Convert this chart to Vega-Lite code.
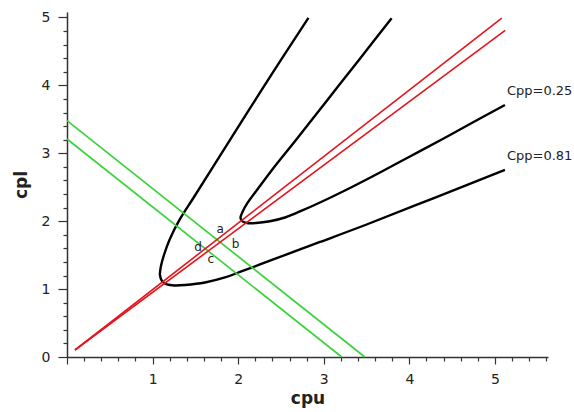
{
  "$schema": "https://vega.github.io/schema/vega-lite/v6.json",
  "width": 481,
  "height": 345,
  "autosize": {"type": "none"},
  "padding": {"left": 67, "top": 12, "right": 26, "bottom": 55},
  "background": "white",
  "config": {
    "view": {"stroke": null},
    "axis": {
      "grid": false,
      "domainColor": "#333333",
      "domainWidth": 1.5,
      "tickColor": "#333333",
      "tickWidth": 1.2,
      "labelColor": "#222222",
      "labelFont": "DejaVu Sans",
      "labelFontSize": 14,
      "labelOverlap": false,
      "labelFlush": false,
      "titleFont": "DejaVu Sans",
      "titleFontSize": 17,
      "titleFontWeight": "bold",
      "titleColor": "#222222"
    }
  },
  "datasets": {
    "lines": [
      {"kind": "curve", "s": "c1", "i": 1, "cpu": 2.821, "cpl": 4.993},
      {"kind": "curve", "s": "c1", "i": 2, "cpu": 2.5, "cpl": 4.375},
      {"kind": "curve", "s": "c1", "i": 3, "cpu": 2.126, "cpl": 3.638},
      {"kind": "curve", "s": "c1", "i": 4, "cpu": 1.787, "cpl": 2.96},
      {"kind": "curve", "s": "c1", "i": 5, "cpu": 1.484, "cpl": 2.356},
      {"kind": "curve", "s": "c1", "i": 6, "cpu": 1.314, "cpl": 2.018},
      {"kind": "curve", "s": "c1", "i": 7, "cpu": 1.197, "cpl": 1.723},
      {"kind": "curve", "s": "c1", "i": 8, "cpu": 1.133, "cpl": 1.502},
      {"kind": "curve", "s": "c1", "i": 9, "cpu": 1.098, "cpl": 1.34},
      {"kind": "curve", "s": "c1", "i": 10, "cpu": 1.086, "cpl": 1.208},
      {"kind": "curve", "s": "c1", "i": 11, "cpu": 1.11, "cpl": 1.119},
      {"kind": "curve", "s": "c1", "i": 12, "cpu": 1.168, "cpl": 1.068},
      {"kind": "curve", "s": "c1", "i": 13, "cpu": 1.262, "cpl": 1.053},
      {"kind": "curve", "s": "c1", "i": 14, "cpu": 1.379, "cpl": 1.06},
      {"kind": "curve", "s": "c1", "i": 15, "cpu": 1.612, "cpl": 1.097},
      {"kind": "curve", "s": "c1", "i": 16, "cpu": 1.846, "cpl": 1.171},
      {"kind": "curve", "s": "c1", "i": 17, "cpu": 2.021, "cpl": 1.252},
      {"kind": "curve", "s": "c1", "i": 18, "cpu": 2.41, "cpl": 1.436},
      {"kind": "curve", "s": "c1", "i": 19, "cpu": 2.722, "cpl": 1.584},
      {"kind": "curve", "s": "c1", "i": 20, "cpu": 2.956, "cpl": 1.694},
      {"kind": "curve", "s": "c1", "i": 21, "cpu": 3.501, "cpl": 1.951},
      {"kind": "curve", "s": "c1", "i": 22, "cpu": 4.279, "cpl": 2.337},
      {"kind": "curve", "s": "c1", "i": 23, "cpu": 5.117, "cpl": 2.754},
      {"kind": "curve", "s": "c2", "i": 1, "cpu": 3.793, "cpl": 4.988},
      {"kind": "curve", "s": "c2", "i": 2, "cpu": 3.411, "cpl": 4.374},
      {"kind": "curve", "s": "c2", "i": 3, "cpu": 3.043, "cpl": 3.785},
      {"kind": "curve", "s": "c2", "i": 4, "cpu": 2.675, "cpl": 3.196},
      {"kind": "curve", "s": "c2", "i": 5, "cpu": 2.395, "cpl": 2.754},
      {"kind": "curve", "s": "c2", "i": 6, "cpu": 2.22, "cpl": 2.459},
      {"kind": "curve", "s": "c2", "i": 7, "cpu": 2.109, "cpl": 2.268},
      {"kind": "curve", "s": "c2", "i": 8, "cpu": 2.05, "cpl": 2.135},
      {"kind": "curve", "s": "c2", "i": 9, "cpu": 2.027, "cpl": 2.047},
      {"kind": "curve", "s": "c2", "i": 10, "cpu": 2.05, "cpl": 1.996},
      {"kind": "curve", "s": "c2", "i": 11, "cpu": 2.103, "cpl": 1.973},
      {"kind": "curve", "s": "c2", "i": 12, "cpu": 2.208, "cpl": 1.973},
      {"kind": "curve", "s": "c2", "i": 13, "cpu": 2.371, "cpl": 1.999},
      {"kind": "curve", "s": "c2", "i": 14, "cpu": 2.547, "cpl": 2.054},
      {"kind": "curve", "s": "c2", "i": 15, "cpu": 2.722, "cpl": 2.143},
      {"kind": "curve", "s": "c2", "i": 16, "cpu": 2.956, "cpl": 2.275},
      {"kind": "curve", "s": "c2", "i": 17, "cpu": 3.306, "cpl": 2.489},
      {"kind": "curve", "s": "c2", "i": 18, "cpu": 3.657, "cpl": 2.717},
      {"kind": "curve", "s": "c2", "i": 19, "cpu": 4.007, "cpl": 2.953},
      {"kind": "curve", "s": "c2", "i": 20, "cpu": 4.357, "cpl": 3.188},
      {"kind": "curve", "s": "c2", "i": 21, "cpu": 4.708, "cpl": 3.431},
      {"kind": "curve", "s": "c2", "i": 22, "cpu": 5.117, "cpl": 3.711},
      {"kind": "green", "s": "g1", "i": 1, "cpu": 0, "cpl": 3.48},
      {"kind": "green", "s": "g1", "i": 2, "cpu": 3.48, "cpl": 0},
      {"kind": "green", "s": "g2", "i": 1, "cpu": 0, "cpl": 3.21},
      {"kind": "green", "s": "g2", "i": 2, "cpu": 3.21, "cpl": 0},
      {"kind": "red", "s": "r1", "i": 1, "cpu": 0.093, "cpl": 0.103},
      {"kind": "red", "s": "r1", "i": 2, "cpu": 5.08, "cpl": 4.99},
      {"kind": "red", "s": "r2", "i": 1, "cpu": 0.093, "cpl": 0.103},
      {"kind": "red", "s": "r2", "i": 2, "cpu": 5.12, "cpl": 4.81}
    ],
    "labels": [
      {"kind": "cpp", "txt": "Cpp=0.25", "cpu": 5.14, "cpl": 3.92},
      {"kind": "cpp", "txt": "Cpp=0.81", "cpu": 5.14, "cpl": 2.96},
      {"kind": "pt", "txt": "a", "cpu": 1.79, "cpl": 1.88},
      {"kind": "pt", "txt": "b", "cpu": 1.97, "cpl": 1.67},
      {"kind": "pt", "txt": "c", "cpu": 1.68, "cpl": 1.44},
      {"kind": "pt", "txt": "d", "cpu": 1.53, "cpl": 1.62}
    ]
  },
  "encoding": {
    "x": {
      "field": "cpu",
      "type": "quantitative",
      "scale": {"domain": [0, 5.62], "nice": false, "zero": false},
      "axis": {
        "title": "cpu",
        "values": [0, 0.2, 0.4, 0.6, 0.8, 1, 1.2, 1.4, 1.6, 1.8, 2, 2.2, 2.4, 2.6, 2.8, 3, 3.2, 3.4, 3.6, 3.8, 4, 4.2, 4.4, 4.6, 4.8, 5, 5.2, 5.4, 5.6],
        "labelExpr": "datum.value > 0.5 && abs(datum.value - round(datum.value)) < 0.01 ? format(datum.value, 'd') : ''",
        "tickSize": {"condition": {"test": "abs(datum.value - round(datum.value)) < 0.01", "value": 7}, "value": 4},
        "labelPadding": 8,
        "titleX": 240.5,
        "titleY": 41,
        "titleBaseline": "middle",
        "titleAlign": "center"
      }
    },
    "y": {
      "field": "cpl",
      "type": "quantitative",
      "scale": {"domain": [0, 5.08], "nice": false, "zero": false},
      "axis": {
        "title": "cpl",
        "values": [0, 0.2, 0.4, 0.6, 0.8, 1, 1.2, 1.4, 1.6, 1.8, 2, 2.2, 2.4, 2.6, 2.8, 3, 3.2, 3.4, 3.6, 3.8, 4, 4.2, 4.4, 4.6, 4.8, 5],
        "labelExpr": "abs(datum.value - round(datum.value)) < 0.01 ? format(datum.value, 'd') : ''",
        "tickSize": {"condition": {"test": "abs(datum.value - round(datum.value)) < 0.01", "value": 9}, "value": 4},
        "labelPadding": 8,
        "titleX": -46,
        "titleY": 172.5,
        "titleAngle": 270,
        "titleBaseline": "middle",
        "titleAlign": "center"
      }
    }
  },
  "layer": [
    {
      "data": {"name": "lines"},
      "transform": [{"filter": {"field": "kind", "equal": "curve"}}],
      "mark": {"type": "line", "color": "#000000", "strokeWidth": 2.4, "interpolate": "catmull-rom"},
      "encoding": {"detail": {"field": "s"}, "order": {"field": "i", "type": "quantitative"}}
    },
    {
      "data": {"name": "lines"},
      "transform": [{"filter": {"field": "kind", "equal": "green"}}],
      "mark": {"type": "line", "color": "#3cd23c", "strokeWidth": 1.7},
      "encoding": {"detail": {"field": "s"}, "order": {"field": "i", "type": "quantitative"}}
    },
    {
      "data": {"name": "lines"},
      "transform": [{"filter": {"field": "kind", "equal": "red"}}],
      "mark": {"type": "line", "color": "#e3161e", "strokeWidth": 1.6},
      "encoding": {"detail": {"field": "s"}, "order": {"field": "i", "type": "quantitative"}}
    },
    {
      "data": {"name": "labels"},
      "transform": [{"filter": {"field": "kind", "equal": "cpp"}}],
      "mark": {"type": "text", "align": "left", "baseline": "middle", "font": "DejaVu Sans", "fontSize": 13, "color": "#222222"},
      "encoding": {"text": {"field": "txt"}}
    },
    {
      "data": {"name": "labels"},
      "transform": [{"filter": {"field": "kind", "equal": "pt"}}],
      "mark": {"type": "text", "align": "center", "baseline": "middle", "font": "DejaVu Sans", "fontSize": 12, "color": "#222222"},
      "encoding": {"text": {"field": "txt"}}
    }
  ]
}
